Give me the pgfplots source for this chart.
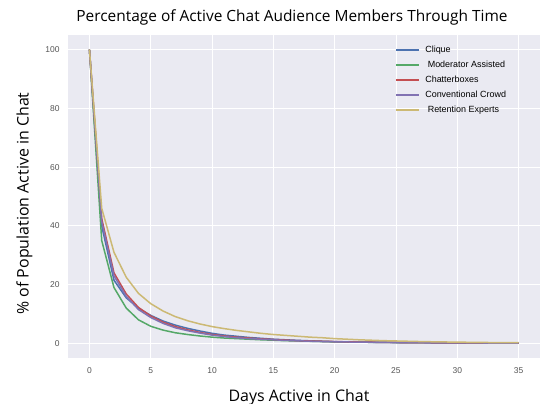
\documentclass[border=0pt]{standalone}
\usepackage{fontspec}
\setmainfont{Open Sans}
\newfontfamily\arialfont{Liberation Sans}
\usepackage{pgfplots}
\pgfplotsset{compat=1.18}

\definecolor{bgc}{HTML}{EAEAF2}
\definecolor{cblue}{HTML}{4C72B0}
\definecolor{cgreen}{HTML}{55A868}
\definecolor{cred}{HTML}{C44E52}
\definecolor{cpurple}{HTML}{8172B2}
\definecolor{cyellow}{HTML}{CCB974}
\definecolor{tickc}{HTML}{555555}

\begin{document}
\begin{tikzpicture}
\path[use as bounding box] (-68bp,-46bp) rectangle (480bp,358bp);
\begin{axis}[
  scale only axis,
  width=472bp, height=323bp,
  xmin=-1.75, xmax=36.75,
  ymin=-5, ymax=105,
  xtick={0,5,...,35},
  ytick={0,20,...,100},
  axis background/.style={fill=bgc},
  axis line style={draw=none},
  major tick length=0pt,
  grid=major,
  grid style={white, line width=0.9bp},
  tick label style={font=\arialfont\fontsize{8.5}{10}\selectfont, text=tickc},
  /pgf/number format/assume math mode=true,
  xticklabel style={yshift=-6bp},
  yticklabel style={xshift=-5bp},
  title={Percentage of Active Chat Audience Members Through Time},
  title style={font=\fontsize{15.5}{18}\selectfont, yshift=0bp, xshift=-12bp},
  xlabel={Days Active in Chat},
  ylabel={\% of Population Active in Chat},
  label style={font=\fontsize{16}{18}\selectfont},
  xlabel style={yshift=-9bp, xshift=-5bp},
  ylabel style={xshift=-7bp, yshift=6bp},
  legend style={at={(0.693,0.972)}, anchor=north west, draw=none, fill=none,
    font=\arialfont\fontsize{9}{10}\selectfont, row sep=2.9bp, inner sep=0pt,
    cells={anchor=west}, nodes={inner xsep=5bp}},
  legend image code/.code={\draw[#1, line width=2bp] (0bp,0bp) -- (23bp,0bp);},
  every axis plot post/.append style={line width=1.5bp, line join=round},
]
\addplot[cblue] coordinates {
(0,100) (1,40) (2,21.5) (3,15.5) (4,12) (5,9.5) (6,7.6) (7,6.2) (8,5.1) (9,4.2)
(10,3.4) (11,2.8) (12,2.4) (13,2.0) (14,1.7) (15,1.4) (16,1.2) (17,1.0) (18,0.85) (19,0.7)
(20,0.55) (21,0.48) (22,0.42) (23,0.37) (24,0.32) (25,0.28) (26,0.25) (27,0.22) (28,0.19) (29,0.17)
(30,0.15) (31,0.13) (32,0.12) (33,0.1) (34,0.09) (35,0.08)};
\addlegendentry{Clique}
\addplot[cgreen] coordinates {
(0,100) (1,35) (2,19) (3,12) (4,8) (5,5.8) (6,4.5) (7,3.6) (8,3.0) (9,2.5)
(10,2.1) (11,1.8) (12,1.6) (13,1.4) (14,1.2) (15,1.05) (16,0.9) (17,0.8) (18,0.7) (19,0.6)
(20,0.5) (21,0.45) (22,0.4) (23,0.35) (24,0.3) (25,0.27) (26,0.24) (27,0.21) (28,0.19) (29,0.17)
(30,0.15) (31,0.13) (32,0.12) (33,0.11) (34,0.1) (35,0.09)};
\addlegendentry{\ Moderator Assisted}
\addplot[cred] coordinates {
(0,100) (1,42.5) (2,24) (3,16.8) (4,12.2) (5,9.3) (6,7.2) (7,5.7) (8,4.6) (9,3.7)
(10,3.0) (11,2.5) (12,2.1) (13,1.8) (14,1.5) (15,1.3) (16,1.1) (17,0.9) (18,0.8) (19,0.7)
(20,0.6) (21,0.5) (22,0.44) (23,0.38) (24,0.33) (25,0.29) (26,0.25) (27,0.22) (28,0.19) (29,0.17)
(30,0.15) (31,0.13) (32,0.12) (33,0.1) (34,0.09) (35,0.08)};
\addlegendentry{Chatterboxes}
\addplot[cpurple] coordinates {
(0,100) (1,41.5) (2,23) (3,16) (4,11.5) (5,8.8) (6,6.8) (7,5.3) (8,4.3) (9,3.5)
(10,2.8) (11,2.3) (12,1.9) (13,1.6) (14,1.4) (15,1.2) (16,1.0) (17,0.85) (18,0.72) (19,0.62)
(20,0.53) (21,0.46) (22,0.4) (23,0.35) (24,0.3) (25,0.26) (26,0.23) (27,0.2) (28,0.18) (29,0.16)
(30,0.14) (31,0.12) (32,0.11) (33,0.1) (34,0.09) (35,0.08)};
\addlegendentry{Conventional Crowd}
\addplot[cyellow] coordinates {
(0,100) (1,46) (2,31) (3,22.5) (4,17) (5,13.5) (6,11) (7,9.1) (8,7.7) (9,6.6)
(10,5.7) (11,5.0) (12,4.4) (13,3.9) (14,3.4) (15,3.0) (16,2.7) (17,2.4) (18,2.1) (19,1.9)
(20,1.6) (21,1.4) (22,1.2) (23,1.05) (24,0.9) (25,0.8) (26,0.7) (27,0.6) (28,0.52) (29,0.46)
(30,0.4) (31,0.35) (32,0.3) (33,0.26) (34,0.22) (35,0.2)};
\addlegendentry{\ Retention Experts}
\end{axis}
\end{tikzpicture}
\end{document}
